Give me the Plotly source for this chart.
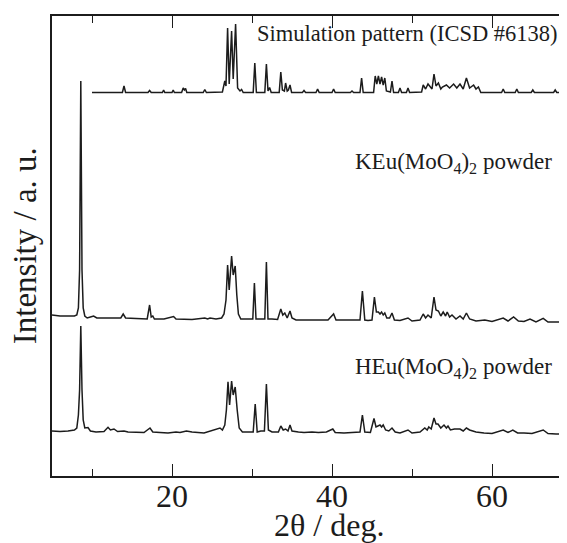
import plotly.graph_objects as go

# ---- data (2theta in deg, intensity in a.u., stacked as displayed) ----
sim_points = [(10.0,383.5),(13.8,383.5),(14.0,390),(14.2,383.5),(17.0,383.5),(17.2,385.5),(17.4,383.5),
    (18.8,383.5),(18.95,386),(19.1,383.5),(20.0,383.5),(20.15,386),(20.3,383.5),(21.2,383.5),(21.4,388),
    (21.55,386),(21.7,387.5),(21.85,383.5),(23.9,383.5),(24.1,386.5),(24.3,383.5),(26.3,384),(26.6,395),
    (26.75,390),(26.95,448),(27.15,392),(27.45,445),(27.65,397),(27.95,452),(28.2,388),(28.5,385),
    (28.7,386.5),(28.9,383.5),(30.15,383.5),(30.35,413),(30.55,383.5),(31.6,383.5),(31.8,412),(32.0,385),
    (32.2,388.5),(32.4,383.5),(33.4,383.5),(33.6,404),(33.8,386),(34.05,385),(34.2,393),(34.4,385),
    (34.55,386),(34.75,391),(34.95,383.5),(36.3,383.5),(36.5,385.5),(36.7,383.5),(38.0,383.5),(38.2,387),
    (38.4,383.5),(40.0,383.5),(40.2,387),(40.4,383.5),(42.3,383.5),(42.5,385),(42.7,383.5),(43.5,383.5),
    (43.7,398),(43.9,383.5),(45.2,383.5),(45.4,400),(45.6,392),(45.8,400),(46.0,392),(46.2,399),(46.4,391),
    (46.6,398),(46.8,385),(47.3,384),(47.5,395),(47.7,383.5),(48.3,383.5),(48.5,388),(48.7,383.5),
    (49.3,383.5),(49.5,388),(49.7,383.5),(51.2,384),(51.4,391),(51.7,387),(52.0,392),(52.5,387),
    (52.75,402),(53.0,390),(53.3,393),(53.6,387),(53.8,389),(54.3,391),(54.7,388),(55.2,392),(55.6,388),
    (56.0,392),(56.4,387),(56.8,398),(57.2,388),(57.7,391),(58.0,387),(58.3,389),(58.6,383.5),(61.2,383.5),
    (61.4,387),(61.6,383.5),(62.9,383.5),(63.1,387),(63.3,383.5),(64.9,383.5),(65.1,386),(65.3,383.5),
    (67.7,383.5),(67.9,386),(68.1,383.5),(69.4,383.5)]

keu_points = [(5.0,161),(6.0,160),(7.0,160),(7.8,160),(8.1,161),(8.3,168),(8.45,206),(8.6,395),(8.75,206),
    (8.9,168),(9.1,160),(9.4,158),(9.8,159),(10.2,160),(10.6,158),(11.5,158),(12.3,158),(13.6,158),
    (13.9,162),(14.2,158),(15.5,157.5),(16.9,157),(17.2,171),(17.4,159),(17.6,160),(17.8,157),(19.0,157),
    (20.2,159.5),(20.5,157),(21.5,157),(22.5,156.5),(24.1,158),(24.45,157),(24.75,158),(25.5,157),
    (26.2,158),(26.5,162),(26.75,176),(26.95,211),(27.15,186),(27.45,220),(27.65,201),(27.9,210),
    (28.1,181),(28.3,162),(28.6,157),(29.5,157),(30.1,157),(30.3,193),(30.5,157),(31.0,157),(31.6,157),
    (31.8,214),(32.0,157),(32.5,157),(33.2,156.5),(33.6,167),(33.85,161),(34.1,163),(34.4,158),(34.75,165),
    (35.0,158),(35.5,156),(36.5,156),(37.5,156.5),(38.5,156),(39.5,156),(40.2,162),(40.5,156),(41.5,156),
    (42.5,156),(43.5,156),(43.8,185),(44.1,156),(44.5,155.5),(45.0,156),(45.3,179),(45.55,164),(45.8,164),
    (46.0,162),(46.2,164),(46.4,161),(46.6,163),(46.85,158),(47.2,158),(47.5,163),(47.8,156),(48.5,155.5),
    (49.5,158),(50.0,155),(51.0,156),(51.4,162),(51.7,158),(52.0,161),(52.4,158),(52.75,179),(53.0,166),
    (53.3,165),(53.6,160),(53.9,164),(54.2,160),(54.4,164),(54.7,159),(55.0,161),(55.5,157),(56.0,160),
    (56.4,157),(56.8,163),(57.2,157),(58.0,155),(59.1,156),(60.0,154.5),(61.4,158),(62.0,155),(62.7,159),
    (63.3,155),(64.0,154.5),(64.75,157),(65.5,154),(66.4,157.7),(67.0,154),(68.0,154),(69.4,154)]

heu_points = [(5.0,45),(6.0,44.5),(7.0,45),(7.8,46),(8.1,48),(8.3,61),(8.45,86),(8.6,150),(8.75,86),(8.9,56),
    (9.1,48),(9.5,48.5),(9.8,45),(10.5,44),(11.5,44.5),(12.0,48.7),(12.3,46),(12.75,47),(13.2,44.5),
    (14.0,45),(14.5,44),(15.5,44),(16.5,43.5),(17.25,48),(17.6,44),(18.5,43.5),(19.5,43),(20.5,44),
    (21.0,43.5),(21.8,45),(22.5,44),(24.0,43),(24.8,45),(25.5,46),(26.0,48),(26.3,46),(26.6,51),(26.8,66),
    (27.0,94.3),(27.2,71),(27.45,95),(27.65,81),(27.9,89),(28.15,66),(28.4,48),(28.8,44),(29.5,44),
    (30.15,44),(30.4,72),(30.65,44),(31.1,45),(31.55,45),(31.8,92),(32.05,46),(32.5,44),(33.3,44),
    (33.6,50),(33.9,46),(34.2,47),(34.5,45),(34.75,51),(35.0,45),(35.8,44),(36.5,43.5),(37.5,44),
    (38.3,43.5),(39.3,44),(40.1,47),(40.4,43.5),(41.5,43),(42.5,43.5),(43.5,44),(43.8,61),(44.1,44),
    (44.8,43.5),(45.25,57.5),(45.5,49),(45.8,50),(46.0,51),(46.2,49),(46.4,51),(46.7,46),(47.1,45),
    (47.5,48),(47.9,44),(48.5,43),(49.5,46),(50.0,43),(51.0,44),(51.6,48),(51.9,46),(52.1,49),(52.4,47),
    (52.75,58),(53.0,52),(53.25,52),(53.6,48),(54.0,51),(54.3,48),(54.5,50),(54.8,46),(55.3,47),(56.0,47),
    (56.4,45),(56.8,48),(57.2,46),(58.0,44),(59.0,43),(60.0,42.5),(61.4,46),(62.0,43.5),(62.6,46),
    (63.2,43),(64.0,43),(65.0,42.5),(66.4,46),(67.0,42.5),(68.0,42),(69.4,42)]

labels = ["Simulation pattern (ICSD #6138)",
          "KEu(MoO<sub>4</sub>)<sub>2</sub> powder",
          "HEu(MoO<sub>4</sub>)<sub>2</sub> powder"]
x_ticks = [20, 40, 60]
x_minor_ticks = [10, 30, 50, 70]

FONT = "Liberation Serif, Times New Roman, serif"
INK = "#1c1c1c"

fig = go.Figure()
for pts in (sim_points, keu_points, heu_points):
    xs, ys = zip(*pts)
    fig.add_trace(go.Scatter(x=list(xs), y=list(ys), mode="lines",
                             line=dict(color=INK, width=1.5), showlegend=False,
                             hoverinfo="skip"))

# page has an 8px body margin; size the figure so the plot box lands where the reference has it
fig.update_layout(
    width=559, height=535,
    margin=dict(l=44, r=0, t=8, b=67),
    paper_bgcolor="white", plot_bgcolor="white",
    font=dict(family=FONT, color=INK),
    xaxis=dict(range=[5, 69.375], tickvals=x_ticks, ticks="inside", ticklen=12, tickwidth=1.4,
               tickcolor=INK, showline=True, linecolor=INK, linewidth=1.6, mirror="allticks",
               showgrid=False, zeroline=False, ticklabelstandoff=-9,
               tickfont=dict(size=32, family=FONT, color=INK),
               minor=dict(tickvals=x_minor_ticks, ticks="inside", ticklen=7, tickwidth=1.4,
                          tickcolor=INK, showgrid=False)),
    yaxis=dict(range=[0, 460], showticklabels=False, ticks="", showline=True, linecolor=INK,
               linewidth=1.6, mirror=False, showgrid=False, zeroline=False),
)

fig.add_annotation(text=labels[0], xref="paper", yref="paper", x=0.394, y=0.963,
                   xanchor="left", yanchor="middle", showarrow=False,
                   font=dict(size=22.5, family=FONT, color=INK))
fig.add_annotation(text=labels[1], xref="paper", yref="paper", x=0.584, y=0.680,
                   xanchor="left", yanchor="middle", showarrow=False,
                   font=dict(size=23, family=FONT, color=INK))
fig.add_annotation(text=labels[2], xref="paper", yref="paper", x=0.584, y=0.235,
                   xanchor="left", yanchor="middle", showarrow=False,
                   font=dict(size=23, family=FONT, color=INK))
fig.add_annotation(text="2θ / deg.", xref="paper", yref="paper", x=0.538, y=-0.106,
                   xanchor="center", yanchor="middle", showarrow=False,
                   font=dict(size=32, family=FONT, color=INK))
fig.add_annotation(text="Intensity / a. u.", xref="paper", yref="paper", x=-0.052, y=0.5,
                   xanchor="center", yanchor="middle", showarrow=False, textangle=-90,
                   font=dict(size=33, family=FONT, color=INK))

fig.write_html("out.html")
